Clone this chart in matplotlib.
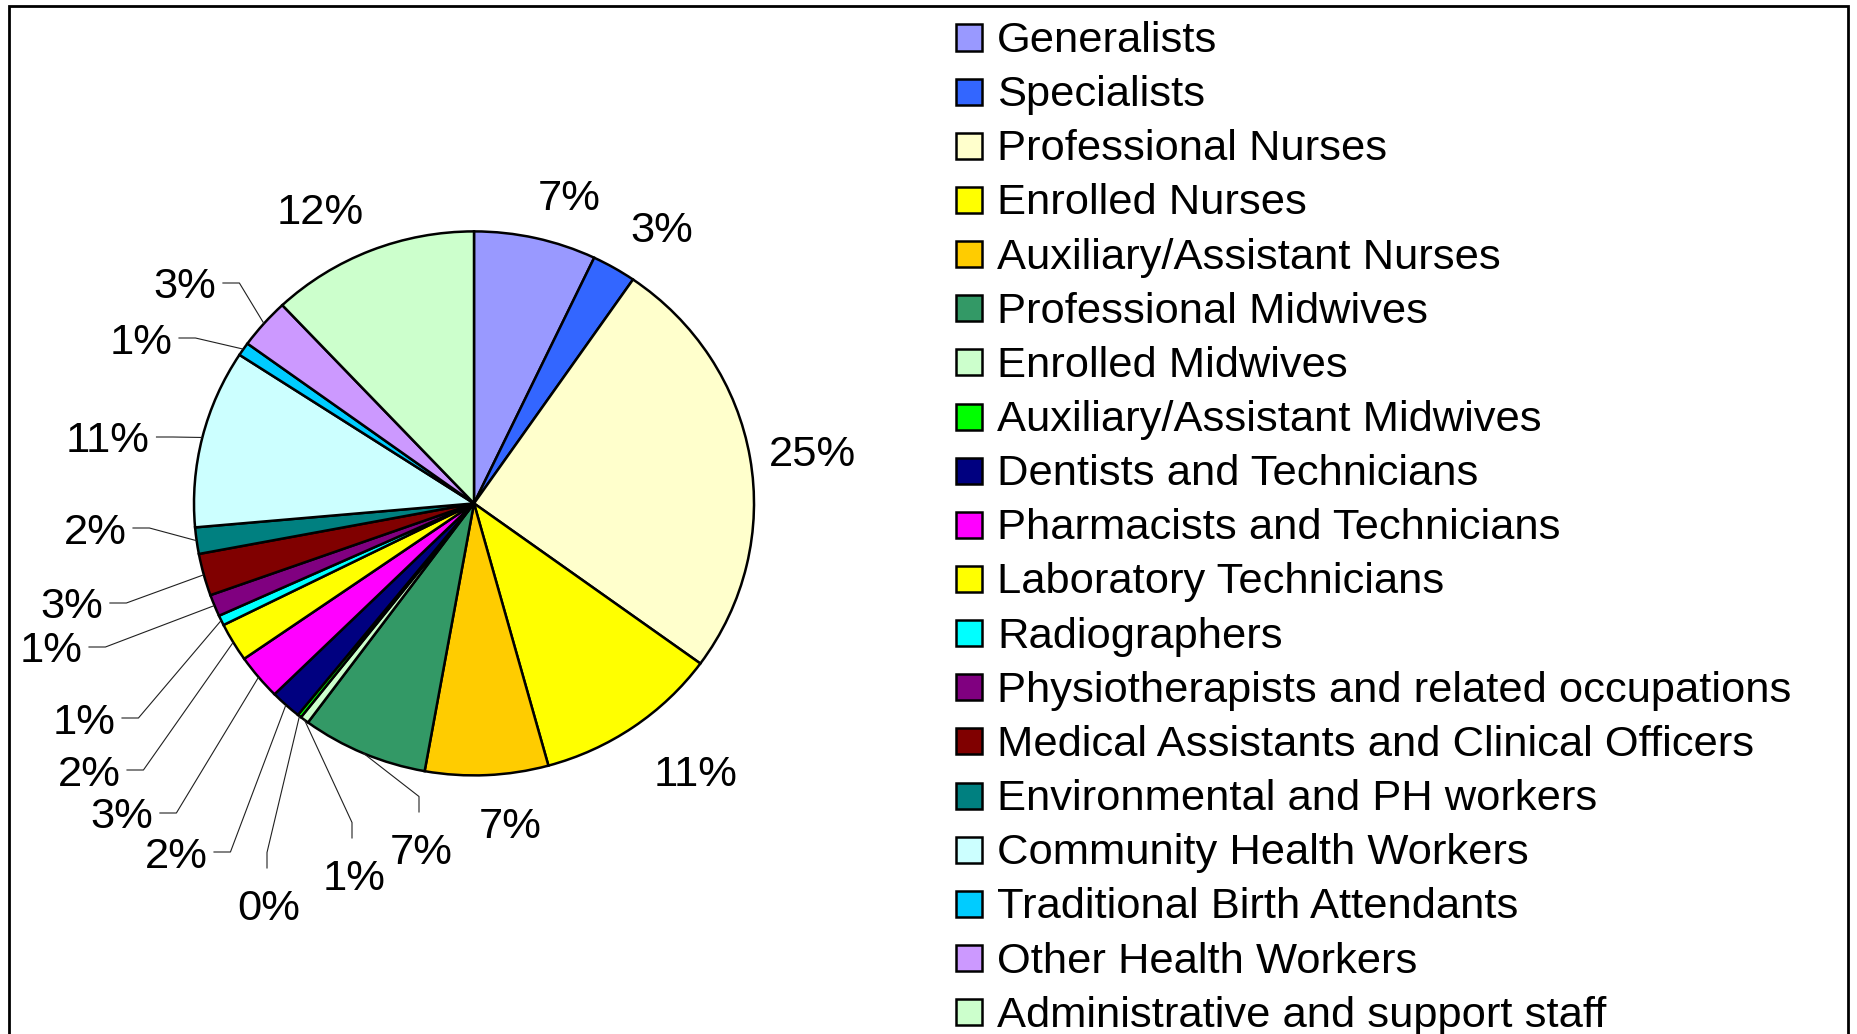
import matplotlib
matplotlib.use('Agg')
import matplotlib.pyplot as plt
import numpy as np
from matplotlib.patches import Rectangle

W, H = 1858, 1034
plt.rcParams['font.family'] = ['Liberation Sans', 'DejaVu Sans']

categories = [
    "Generalists", "Specialists", "Professional Nurses", "Enrolled Nurses",
    "Auxiliary/Assistant Nurses", "Professional Midwives", "Enrolled Midwives",
    "Auxiliary/Assistant Midwives", "Dentists and Technicians",
    "Pharmacists and Technicians", "Laboratory Technicians", "Radiographers",
    "Physiotherapists and related occupations",
    "Medical Assistants and Clinical Officers", "Environmental and PH workers",
    "Community Health Workers", "Traditional Birth Attendants",
    "Other Health Workers", "Administrative and support staff",
]
shares = [7.06, 2.55, 25.4, 10.7, 7.1, 7.28, 0.5, 0.22, 1.8, 2.7, 2.3, 0.6,
          1.3, 2.5, 1.57, 10.6, 0.8, 3.0, 12.0]
pct_labels = ['7%', '3%', '25%', '11%', '7%', '7%', '1%', '0%', '2%', '3%',
              '2%', '1%', '1%', '3%', '2%', '11%', '1%', '3%', '12%']
colors = ['#9999FF', '#3366FF', '#FFFFCC', '#FFFF00', '#FFCC00', '#339966',
          '#CCFFCC', '#00FF00', '#000080', '#FF00FF', '#FFFF00', '#00FFFF',
          '#800080', '#800000', '#008080', '#CCFFFF', '#00CCFF', '#CC99FF',
          '#CCFFCC']

# layout (pixels from top-left): label centres and leader style
label_px = [(569, 195), (662, 227), (812, 450), (696, 770), (510, 822),
            (421, 848), (354, 874), (269, 904), (176, 852), (122, 813),
            (89, 770), (84, 718), (51, 647), (72, 603), (95, 528),
            (108, 437), (141, 338), (185, 283), (320, 208)]
leader = [None, None, None, None, None, 'v', 'v', 'v', 'h', 'h', 'h', 'h',
          'h', 'h', 'h', 'h', 'h', 'h', None]

CX, CY, RX, RY = 474, 503.4, 280, 272
FS = 31.3
CAP = 31

fig = plt.figure(figsize=(W / 100, H / 100), dpi=100)
span = 1.7
ax = fig.add_axes([(CX - span * RX) / W, (H - CY - span * RY) / H,
                   2 * span * RX / W, 2 * span * RY / H])
wedges, _ = ax.pie(shares, colors=colors, startangle=90, counterclock=False,
                   wedgeprops=dict(edgecolor='black', linewidth=1.8))
ax.set_aspect('auto')
ax.set_xlim(-span, span)
ax.set_ylim(-span, span)
ax.axis('off')


def px2data(px, py):
    return (px - CX) / RX, (CY - py) / RY


fig.canvas.draw()
renderer = fig.canvas.get_renderer()

for i, w in enumerate(wedges):
    px, py = label_px[i]
    tx, ty = px2data(px, py + CAP / 2)
    t = ax.text(tx, ty, pct_labels[i], ha='center', va='baseline',
                fontsize=FS, color='black', clip_on=False)
    if leader[i] is None:
        continue
    ext = t.get_window_extent(renderer)
    hw = ext.width / 2
    ang = np.deg2rad((w.theta1 + w.theta2) / 2)
    sx, sy = np.cos(ang), np.sin(ang)
    if leader[i] == 'h':
        ex, ey = px + hw + 6, py
        bx, by = ex + 17, py
    else:
        ex, ey = px - 2, py - CAP / 2 - 20
        bx, by = ex, ey - 16
    p1 = px2data(bx, by)
    p2 = px2data(ex, ey)
    ax.plot([sx, p1[0], p2[0]], [sy, p1[1], p2[1]], color='#202020',
            lw=0.8, clip_on=False, solid_capstyle='butt')

# legend
row0, pitch = 36.5, 54.15
for i, (name, c) in enumerate(zip(categories, colors)):
    yc = row0 + i * pitch
    fig.patches.append(Rectangle((956 / W, 1 - (yc + 1 + 13) / H), 26 / W, 26 / H,
                                 transform=fig.transFigure, facecolor=c,
                                 edgecolor='black', lw=1.8))
    fig.text(997 / W, 1 - (yc + CAP / 2) / H, name, fontsize=FS,
             va='baseline', ha='left', color='black')

# outer border
fig.patches.append(Rectangle((9 / W, -0.05), (1848 - 9) / W, 1.05 - 5.5 / H,
                             transform=fig.transFigure, facecolor='none',
                             edgecolor='black', lw=2.0))

fig.savefig('out.png', dpi=100)
